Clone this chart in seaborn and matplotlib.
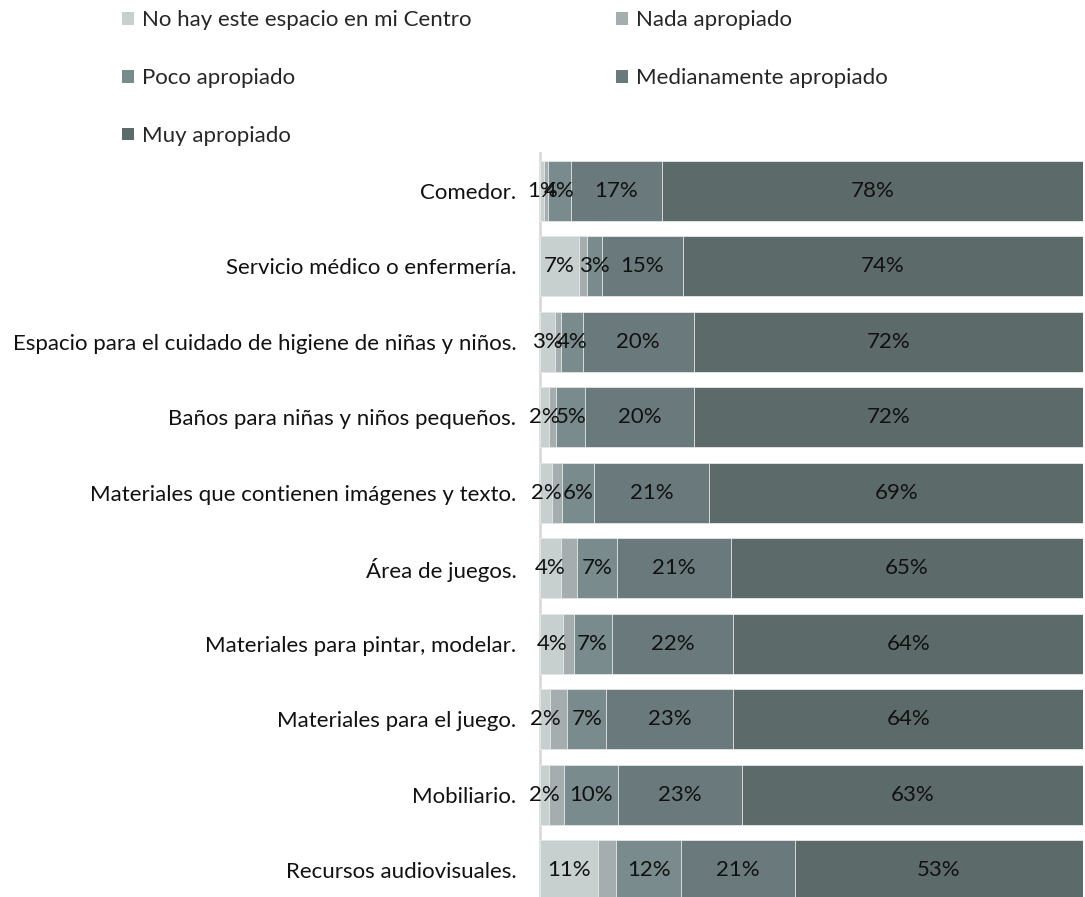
import numpy as np
import pandas as pd
import matplotlib
matplotlib.use("Agg")
import matplotlib.pyplot as plt
import seaborn as sns
from matplotlib.patches import Patch

categories = [
    "Comedor.",
    "Servicio médico o enfermería.",
    "Espacio para el cuidado de higiene de niñas y niños.",
    "Baños para niñas y niños pequeños.",
    "Materiales que contienen imágenes y texto.",
    "Área de juegos.",
    "Materiales para pintar, modelar.",
    "Materiales para el juego.",
    "Mobiliario.",
    "Recursos audiovisuales.",
]
series_names = [
    "No hay este espacio en mi Centro",
    "Nada apropiado",
    "Poco apropiado",
    "Medianamente apropiado",
    "Muy apropiado",
]
no_hay = [0.8, 7.1, 2.8, 1.6, 2.3, 3.9, 4.3, 1.8, 1.7, 10.7]
nada = [0.6, 1.5, 1.1, 1.4, 1.7, 3.0, 1.9, 3.2, 2.8, 3.3]
poco = [4.3, 2.8, 4.0, 5.3, 6.0, 7.2, 7.0, 7.2, 9.9, 12.0]
mediana = [16.7, 14.9, 20.4, 20.1, 21.2, 21.0, 22.4, 23.4, 22.8, 21.0]
muy = [77.6, 73.7, 71.7, 71.6, 68.8, 64.9, 64.4, 64.4, 62.8, 53.0]
show_label = [True, False, True, True, True]

colors = ["#c8cfcf", "#a5adae", "#7a8b8d", "#6a7a7c", "#5d6a6a"]

series = [no_hay, nada, poco, mediana, muy]
df = pd.DataFrame({name: vals for name, vals in zip(series_names, series)})
df["Categoria"] = categories

sns.set_theme(style="white")
FONT = ["Lato", "DejaVu Sans"]
plt.rcParams["font.family"] = FONT
FS = 16

fig = plt.figure(figsize=(10.85, 8.97), dpi=100)
ax = fig.add_axes([540 / 1085, -11 / 897, 543 / 1085, 755 / 897])

cum = df[series_names].cumsum(axis=1)
for k in range(len(series_names) - 1, -1, -1):
    sns.barplot(x=cum[series_names[k]], y=df["Categoria"], orient="h",
                color=colors[k], saturation=1, width=0.8, ax=ax,
                edgecolor="#e6e9e9", linewidth=0.6)

for i in range(len(categories)):
    start = 0.0
    for k, name in enumerate(series_names):
        v = df[name].iloc[i]
        if show_label[k]:
            ax.text(start + v / 2, i, f"{round(v)}%", ha="center", va="center",
                    fontsize=FS, color="#111111")
        start += v

ax.set_xlim(0, 100)
ax.set_ylim(len(categories) - 0.5, -0.5)
ax.set_xlabel("")
ax.set_ylabel("")
ax.set_xticks([])
ax.tick_params(axis="y", length=0, pad=17, labelsize=FS, labelcolor="#111111")
for s in ["top", "right", "bottom"]:
    ax.spines[s].set_visible(False)
ax.spines["left"].set_color("#d9d9d9")
ax.spines["left"].set_linewidth(2)
ax.spines["left"].set_zorder(0)

order = [0, 2, 4, 1, 3]
handles = [Patch(facecolor=colors[k], edgecolor="none") for k in order]
labels = [series_names[k] for k in order]
fig.legend(handles, labels, ncol=2, loc="upper left",
           bbox_to_anchor=(118 / 1085, 1 - 6 / 897), frameon=False,
           fontsize=FS, handlelength=0.5, handleheight=0.5,
           handletextpad=0.4, labelspacing=1.7, columnspacing=6.5,
           borderaxespad=0, borderpad=0.2)

fig.savefig("out.png", dpi=100)
